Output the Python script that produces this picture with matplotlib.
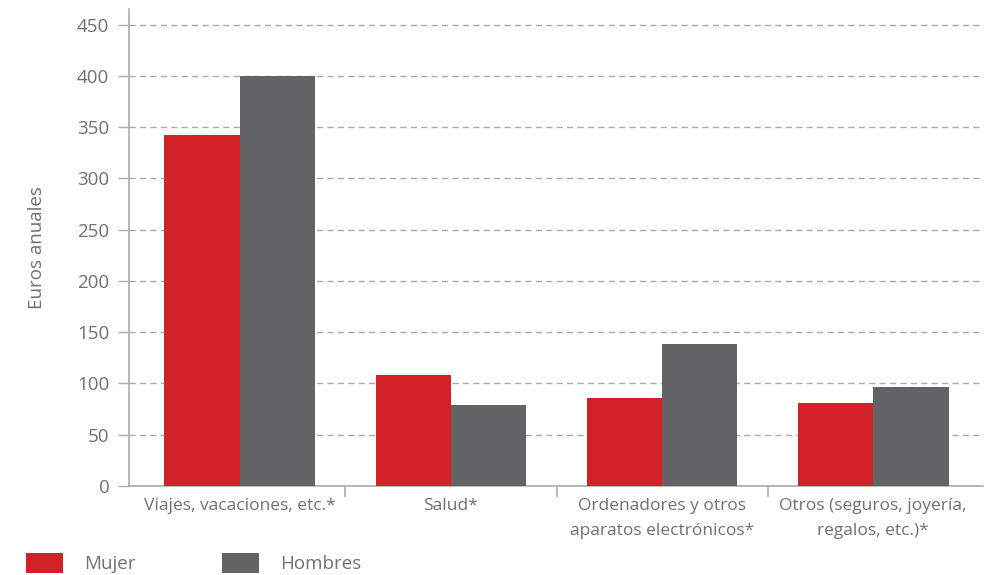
import matplotlib
matplotlib.use("Agg")
import matplotlib.pyplot as plt
import numpy as np

categories = ["Viajes, vacaciones, etc.*", "Salud*",
              "Ordenadores y otros\naparatos electrónicos*",
              "Otros (seguros, joyería,\nregalos, etc.)*"]
mujer = [342, 108, 86, 81]
hombres = [400, 79, 138, 96]
yticks = [0, 50, 100, 150, 200, 250, 300, 350, 400, 450]

RED = "#D32227"
GRAY = "#636365"
TXT = "#707070"
LINE = "#ABABAB"

plt.rcParams['font.family'] = ['Open Sans', 'DejaVu Sans']

fig = plt.figure(figsize=(9.98, 5.75), dpi=100)
ax = fig.add_axes([0.129, 0.155, 0.856, 0.829])

x = np.arange(len(categories))
w = 0.357
ax.bar(x - w / 2, mujer, w, color=RED, label="Mujer", zorder=3)
ax.bar(x + w / 2, hombres, w, color=GRAY, label="Hombres", zorder=3)

ax.set_xlim(-0.526, 3.52)
ax.set_ylim(0, 465)
ax.set_yticks(yticks)
ax.set_yticklabels([str(v) for v in yticks], fontsize=13.5, color=TXT)
ax.yaxis.grid(True, linestyle=(0, (4.5, 3)), color=LINE, linewidth=1, zorder=0)
ax.set_axisbelow(True)

ax.set_xticks(x)
ax.set_xticklabels(categories, fontsize=12.5, color=TXT, linespacing=1.7)
ax.tick_params(axis='x', which='major', length=0, pad=9)
ax.set_xticks(x[:-1] + 0.5, minor=True)
ax.tick_params(axis='x', which='minor', length=8, color=LINE, width=1.2)
ax.tick_params(axis='y', length=8, color=LINE, width=1, pad=6)

for s in ["top", "right"]:
    ax.spines[s].set_visible(False)
for s in ["left", "bottom"]:
    ax.spines[s].set_color(LINE)
    ax.spines[s].set_linewidth(1.2)

ax.set_ylabel("Euros anuales", fontsize=13.5, color=TXT, labelpad=22)

fig.legend(loc="lower left", bbox_to_anchor=(0.024, 0.0), ncol=2, frameon=False,
           fontsize=13.5, handlelength=2.0, handleheight=1.25, handletextpad=1.1,
           columnspacing=4.6, labelcolor=TXT, borderaxespad=0.0, borderpad=0.1)

fig.savefig("out.png", dpi=100)
